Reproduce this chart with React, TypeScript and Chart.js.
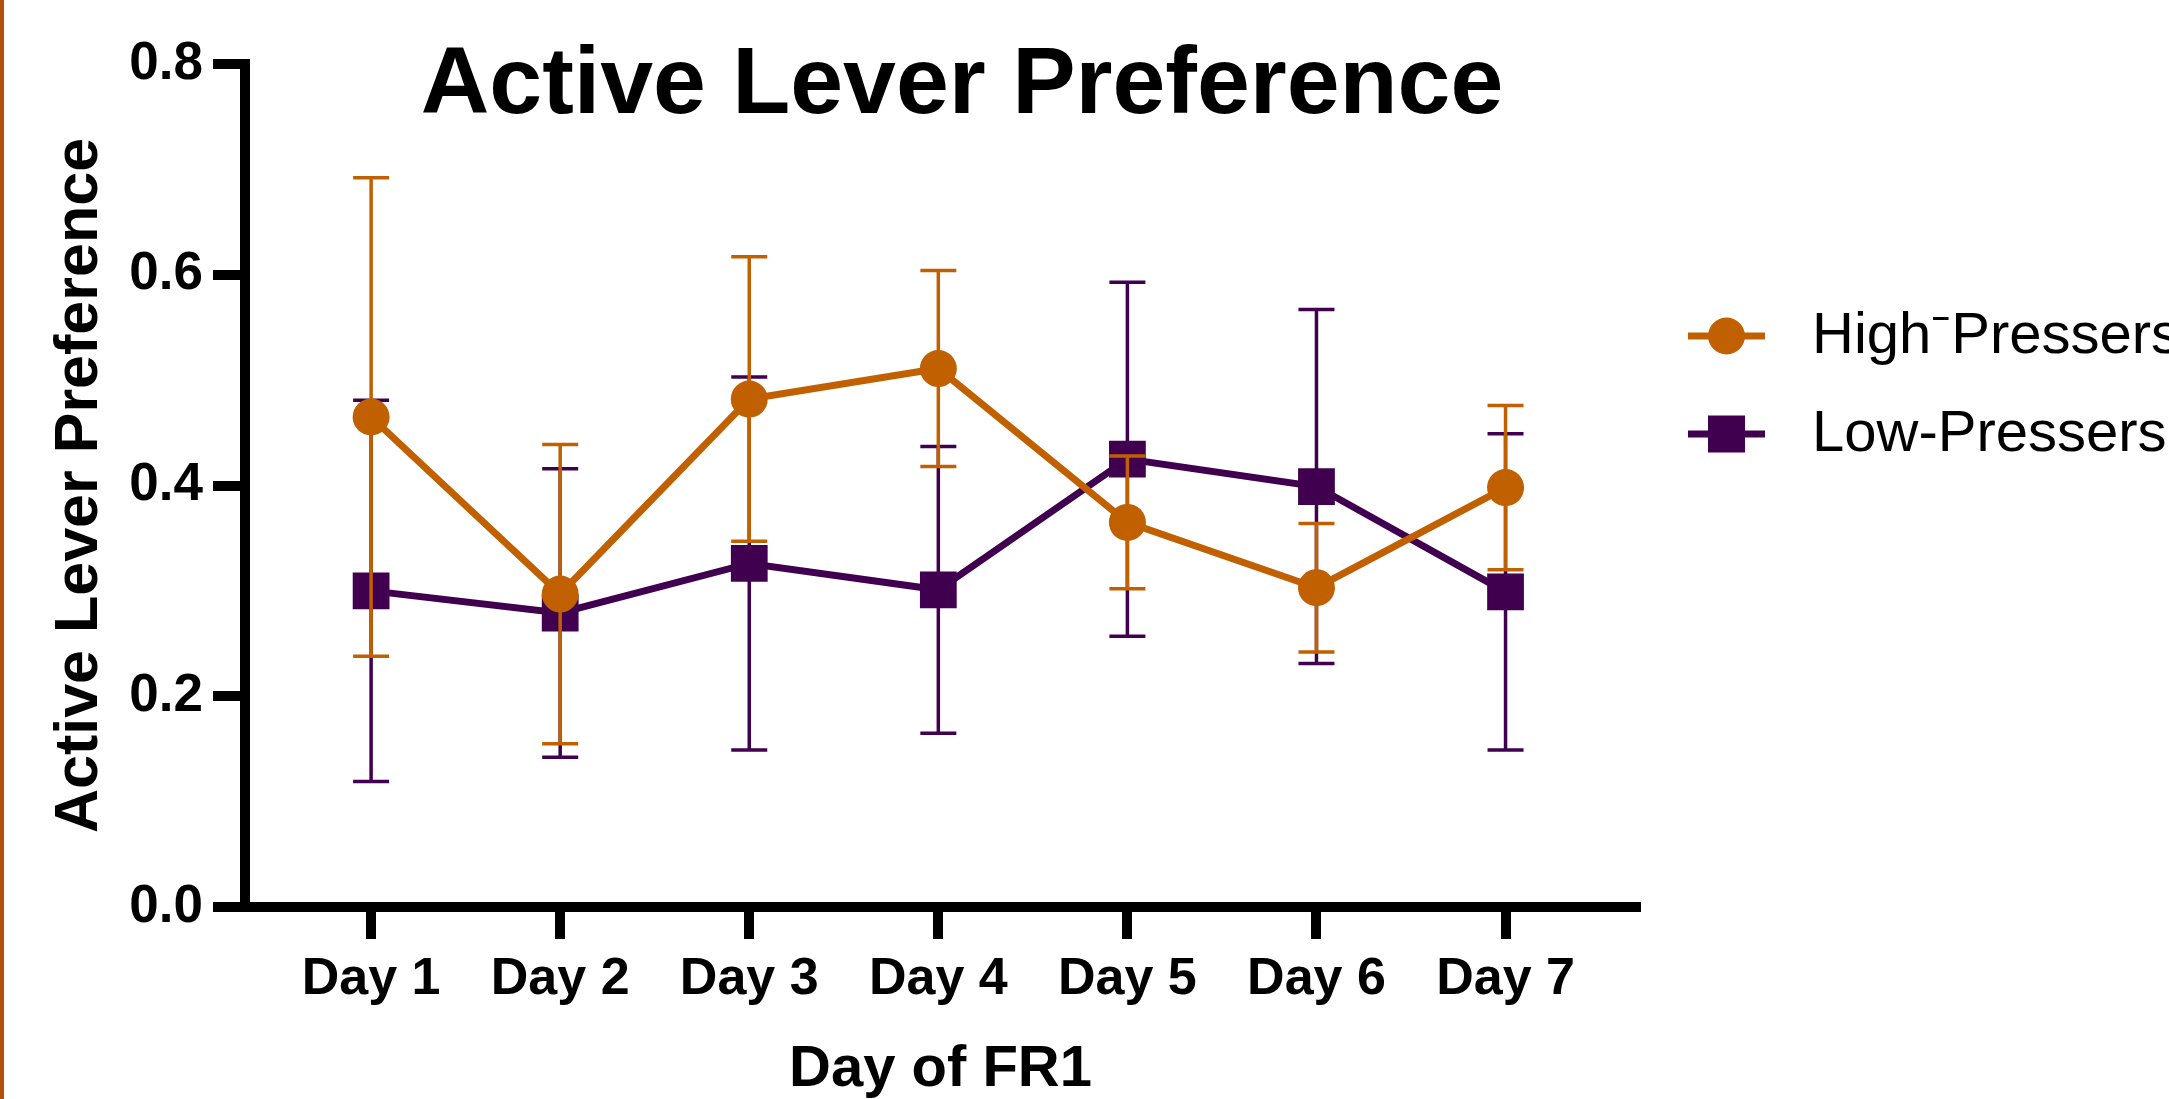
import React, { useEffect, useRef } from 'react';
import { Chart, registerables } from 'chart.js';

Chart.register(...registerables);

const categories = ['Day 1', 'Day 2', 'Day 3', 'Day 4', 'Day 5', 'Day 6', 'Day 7'];
const highMean = [0.465, 0.297, 0.482, 0.511, 0.365, 0.303, 0.398];
const highSem = [0.227, 0.142, 0.135, 0.093, 0.063, 0.061, 0.078];
const lowMean = [0.300, 0.279, 0.326, 0.301, 0.425, 0.399, 0.299];
const lowSem = [0.181, 0.137, 0.177, 0.136, 0.168, 0.168, 0.150];
const seriesLabels = ['High\u207BPressers', 'Low-Pressers'];
const yTickValues = [0, 0.2, 0.4, 0.6, 0.8];
const chartTitle = 'Active Lever Preference';
const xTitle = 'Day of FR1';
const yTitle = 'Active Lever Preference';

const ORANGE = '#C06000';
const PURPLE = '#40004F';
const FONT = "'Liberation Sans', Arial, Helvetica, sans-serif";

const semByDataset = [highSem, lowSem];

const edgeLine = {
  id: 'edgeLine',
  beforeDraw(chart: any) {
    const ctx = chart.ctx;
    ctx.save();
    ctx.fillStyle = '#B4500C';
    ctx.fillRect(0, 0, 4, chart.height);
    ctx.restore();
  },
};

const errorBars = {
  id: 'errorBars',
  beforeDatasetDraw(chart: any, args: any) {
    const ctx = chart.ctx;
    const ds = chart.data.datasets[args.index];
    const sem = semByDataset[args.index];
    const xs = chart.scales.x;
    const ys = chart.scales.y;
    ctx.save();
    ctx.strokeStyle = ds.borderColor;
    ctx.lineWidth = 3.5;
    ctx.lineCap = 'butt';
    ds.data.forEach((p: any, i: number) => {
      const px = xs.getPixelForValue(p.x);
      const top = ys.getPixelForValue(p.y + sem[i]);
      const bot = ys.getPixelForValue(p.y - sem[i]);
      ctx.beginPath();
      ctx.moveTo(px, top);
      ctx.lineTo(px, bot);
      ctx.moveTo(px - 18, top);
      ctx.lineTo(px + 18, top);
      ctx.moveTo(px - 18, bot);
      ctx.lineTo(px + 18, bot);
      ctx.stroke();
    });
    ctx.restore();
  },
};

const titlePlugin = {
  id: 'customTitle',
  afterDraw(chart: any) {
    const ctx = chart.ctx;
    ctx.save();
    ctx.font = `bold 95px ${FONT}`;
    ctx.fillStyle = '#000';
    ctx.textAlign = 'center';
    ctx.textBaseline = 'alphabetic';
    ctx.fillText(chartTitle, 962, 113);
    ctx.restore();
  },
};

const legendPlugin = {
  id: 'customLegend',
  afterDraw(chart: any) {
    const ctx = chart.ctx;
    const x0 = 1688;
    const x1 = 1765;
    const cx = (x0 + x1) / 2;
    const rows = [336, 434];
    ctx.save();
    chart.data.datasets.forEach((ds: any, i: number) => {
      const y = rows[i];
      ctx.strokeStyle = ds.borderColor;
      ctx.lineWidth = 7;
      ctx.beginPath();
      ctx.moveTo(x0, y);
      ctx.lineTo(x1, y);
      ctx.stroke();
      ctx.fillStyle = ds.backgroundColor;
      if (ds.pointStyle === 'circle') {
        ctx.beginPath();
        ctx.arc(cx, y, 18.5, 0, Math.PI * 2);
        ctx.fill();
      } else {
        ctx.fillRect(cx - 18.5, y - 18.5, 37, 37);
      }
      ctx.fillStyle = '#000';
      ctx.font = `58px ${FONT}`;
      ctx.textAlign = 'left';
      ctx.textBaseline = 'middle';
      ctx.fillText(ds.label, 1812, y + 1);
    });
    ctx.restore();
  },
};

export default function App() {
  const ref = useRef<HTMLCanvasElement | null>(null);

  useEffect(() => {
    document.body.style.margin = '0';
    document.body.style.overflow = 'hidden';
    const canvas = ref.current;
    if (!canvas) return;
    const chart = new Chart(canvas, {
      type: 'line',
      data: {
        datasets: [
          {
            label: seriesLabels[0],
            data: highMean.map((v, i) => ({ x: i + 1, y: v })),
            borderColor: ORANGE,
            backgroundColor: ORANGE,
            borderWidth: 7,
            pointStyle: 'circle',
            pointRadius: 18.5,
            pointBorderWidth: 0,
            pointHoverRadius: 18.5,
            tension: 0,
          },
          {
            label: seriesLabels[1],
            data: lowMean.map((v, i) => ({ x: i + 1, y: v })),
            borderColor: PURPLE,
            backgroundColor: PURPLE,
            borderWidth: 7,
            pointStyle: 'rect',
            pointRadius: 26,
            pointBorderWidth: 0,
            pointHoverRadius: 26,
            tension: 0,
          },
        ],
      },
      options: {
        animation: false,
        responsive: false,
        devicePixelRatio: 1,
        events: [],
        layout: { padding: { left: 0, top: 64, right: 533, bottom: 0 } },
        plugins: {
          legend: { display: false },
          tooltip: { enabled: false },
          title: { display: false },
        },
        scales: {
          x: {
            type: 'linear',
            min: 0.333,
            max: 7.69,
            afterBuildTicks: (axis: any) => {
              axis.ticks = categories.map((_, i) => ({ value: i + 1 }));
            },
            afterFit: (axis: any) => {
              axis.height = 192;
            },
            ticks: {
              autoSkip: false,
              maxRotation: 0,
              padding: 9,
              color: '#000',
              font: { family: FONT, size: 52, weight: 'bold' },
              callback: (v: any) => categories[Math.round(Number(v)) - 1] ?? '',
            },
            grid: {
              display: true,
              drawOnChartArea: false,
              drawTicks: true,
              tickLength: 32,
              tickWidth: 10,
              tickColor: '#000',
              lineWidth: 10,
              color: '#000',
            },
            border: { display: true, width: 10, color: '#000' },
            title: {
              display: true,
              text: xTitle,
              color: '#000',
              padding: 0,
              font: { family: FONT, size: 58, weight: 'bold', lineHeight: 1 },
            },
          },
          y: {
            type: 'linear',
            min: 0,
            max: 0.8,
            afterBuildTicks: (axis: any) => {
              axis.ticks = yTickValues.map((v) => ({ value: v }));
            },
            afterFit: (axis: any) => {
              axis.width = 245;
            },
            ticks: {
              padding: 10,
              color: '#000',
              font: { family: FONT, size: 53, weight: 'bold' },
              callback: (v: any) => Number(v).toFixed(1),
            },
            grid: {
              display: true,
              drawOnChartArea: false,
              drawTicks: true,
              tickLength: 32,
              tickWidth: 10,
              tickColor: '#000',
              lineWidth: 10,
              color: '#000',
            },
            border: { display: true, width: 10, color: '#000' },
            title: {
              display: true,
              text: yTitle,
              color: '#000',
              padding: { top: 50, bottom: 0 },
              font: { family: FONT, size: 61, weight: 'bold', lineHeight: 1 },
            },
          },
        },
      },
      plugins: [edgeLine, errorBars, titlePlugin, legendPlugin],
    } as any);
    return () => chart.destroy();
  }, []);

  return (
    <div style={{ width: 2169, height: 1099, position: 'relative', background: '#fff' }}>
      <canvas ref={ref} width={2169} height={1099} style={{ display: 'block', width: 2169, height: 1099 }} />
    </div>
  );
}
